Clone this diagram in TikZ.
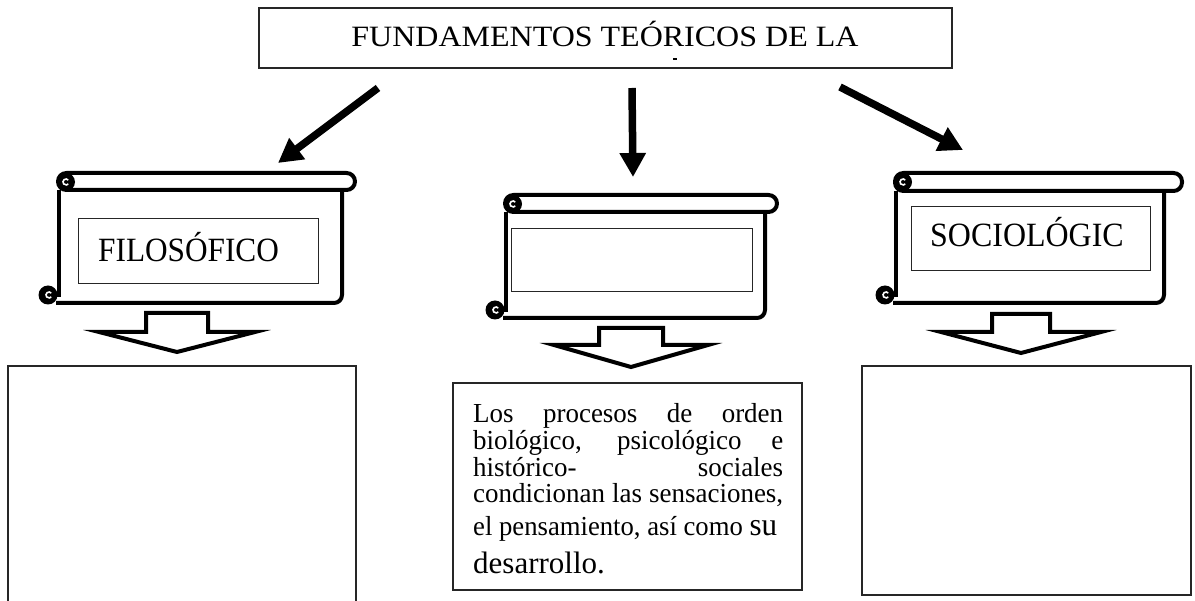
\documentclass[tikz,border=0pt]{standalone}
\usepackage{graphicx}
\usepackage{fontspec}
\setmainfont{Liberation Serif}
\usetikzlibrary{arrows.meta}
\newcommand{\scrollshape}[6]{% L E T H R B
  \draw[scrollline, rounded corners=8.5pt] (#1,#3) rectangle (#2,#4);
  \draw[scrollline, rounded corners=8pt] (#5,#4) -- (#5,#6) -- ({#1-2},#6);
  \draw[scrollline] ({#1+1},#4) -- ({#1+1},{#6-6});
  \fill ({#1+8},{#3+9}) circle (9pt);
  \draw[white, line width=1.6pt] ({#1+8},{#3+9}) ++(40:3pt) arc[start angle=40, end angle=320, radius=3pt];
  \fill ({#1-10},{#6-8}) circle (9.5pt);
  \draw[white, line width=1.6pt] ({#1-9},{#6-8}) ++(40:3pt) arc[start angle=40, end angle=320, radius=3pt];
}
\newcommand{\hollowdown}[6]{% cx sw top wing ww tip
  \draw[hollow] ({#1-#2},#3) -- ({#1+#2},#3) -- ({#1+#2},#4) -- ({#1+#5},#4) -- (#1,#6) -- ({#1-#5},#4) -- ({#1-#2},#4) -- cycle;
}
\newcommand{\jline}[1]{\scalebox{0.981}[1]{\makebox[316pt][s]{#1}}}
\begin{document}
\begin{tikzpicture}[x=1pt,y=-1pt,
  thinbox/.style={draw=black!85, line width=1.1pt, inner sep=0pt},
  innerbox/.style={draw=black!85, line width=1pt, inner sep=0pt},
  scrollline/.style={line width=4pt, line join=round},
  bigarrow/.style={line width=7.5pt, -{Triangle[width=25pt,length=24pt]}},
  hollow/.style={line width=4pt, line join=miter},
  titletext/.style={inner sep=0pt, font=\fontsize{29.5}{29.5}\selectfont},
  labeltext/.style={inner sep=0pt, font=\fontsize{34}{34}\selectfont},
  bodytext/.style={inner sep=0pt, anchor=base west, font=\fontsize{27.5}{27.5}\selectfont},
]
\useasboundingbox[fill=white] (0,0) rectangle (1195,601);

% title
\node[thinbox, minimum width=693pt, minimum height=60pt] (title) at (605.5,38) {};
\node[titletext, anchor=base] (titlet) at (605,47) {\scalebox{1.085}[1]{FUNDAMENTOS TEÓRICOS DE LA}};
\fill (673,58) rectangle (677,60);

% arrows from title
\coordinate (a1s) at (378,88);  \coordinate (a1e) at (278,163);
\coordinate (a2s) at (632,88);  \coordinate (a2e) at (633,177);
\coordinate (a3s) at (840,87);  \coordinate (a3e) at (963,150);
\draw[bigarrow] (a1s) -- (a1e);
\draw[bigarrow] (a2s) -- (a2e);
\draw[bigarrow] (a3s) -- (a3e);

% scrolls
\scrollshape{58}{355}{173}{190}{342}{303}
\scrollshape{505}{777}{195}{212}{765}{318}
\scrollshape{895}{1182}{173}{191}{1164}{303}

% inner boxes
\node[innerbox, minimum width=240pt, minimum height=65pt] (filbox) at (198,251.5) {};
\node[labeltext, anchor=base west] (filt) at (98,262) {\scalebox{0.92}[1]{FILOSÓFICO}};
\node[innerbox, minimum width=241pt, minimum height=63pt] (midbox) at (631.5,260.5) {};
\node[innerbox, minimum width=239pt, minimum height=64pt] (socbox) at (1030.5,239) {};
\node[labeltext, anchor=base west] (soct) at (930,247) {\scalebox{0.94}[1]{SOCIOLÓGIC}};

% hollow down arrows
\hollowdown{177}{31}{313}{332}{78}{352}
\hollowdown{631}{32}{328}{345}{77}{367}
\hollowdown{1021}{29}{314}{332}{80}{353}

% bottom boxes
\node[thinbox, minimum width=348pt, minimum height=245pt] (leftbox) at (182,488.5) {};
\node[thinbox, minimum width=349pt, minimum height=207pt] (midtext) at (627.5,486.5) {};
\node[thinbox, minimum width=329pt, minimum height=229pt] (rightbox) at (1026.5,480.5) {};

\node[bodytext] (l1) at (473,423) {\jline{Los procesos de orden}};
\node[bodytext] (l2) at (473,450) {\jline{biológico, psicológico e}};
\node[bodytext] (l3) at (473,477) {\jline{histórico- sociales}};
\node[bodytext] (l4) at (473,503) {\jline{condicionan las sensaciones,}};
\node[bodytext] (l5) at (473,536) {\scalebox{0.97}[1]{el pensamiento, así como {\fontsize{32}{32}\selectfont su}}};
\node[bodytext] (l6) at (473,573) {\fontsize{31}{31}\selectfont desarrollo.};
\end{tikzpicture}
\end{document}
